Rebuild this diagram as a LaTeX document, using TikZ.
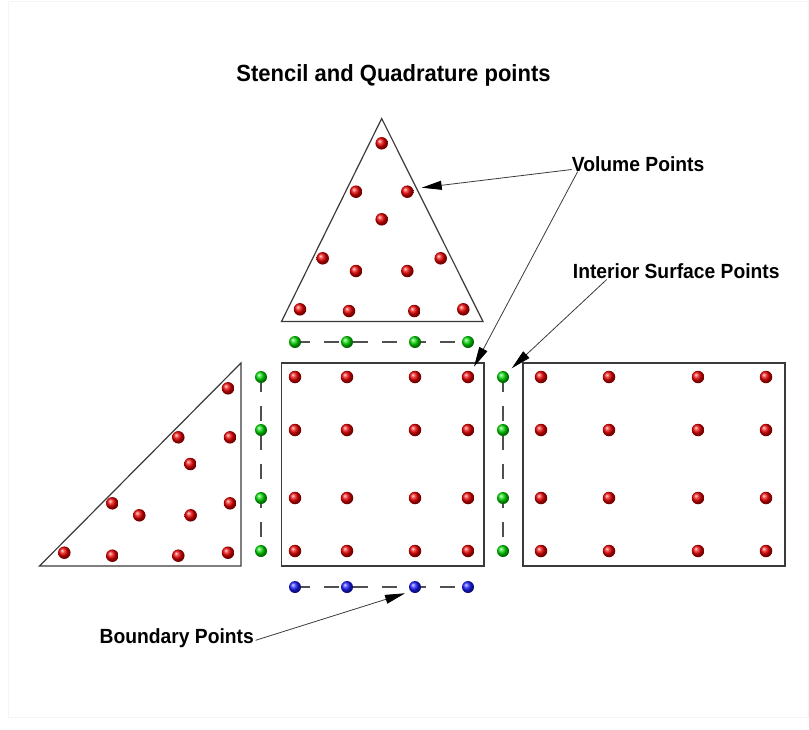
\documentclass[tikz,border=0pt]{standalone}
\usepackage{fontspec}
\setmainfont{Liberation Sans}
\newfontfamily\lblfont[FakeStretch=0.94]{Liberation Sans}
\usepackage{tikz}
\usetikzlibrary{arrows.meta,backgrounds}
\definecolor{edgegray}{HTML}{3A3A3A}
\definecolor{dashgray}{HTML}{505050}

\begin{document}
\begin{tikzpicture}[x=1pt, y=-1pt,
    volpt/.style={circle, inner sep=0pt, minimum size=12.5pt, ball color=red!92!black},
    surfpt/.style={circle, inner sep=0pt, minimum size=12pt, ball color=green!85!black},
    bndpt/.style={circle, inner sep=0pt, minimum size=12pt, ball color=blue!90},
    cell/.style={draw=edgegray, line width=1.2pt, line join=miter},
    link/.style={draw=dashgray, line width=1.1pt, dash pattern=on 15pt off 14pt},
    lbl/.style={inner sep=0pt, font=\lblfont\bfseries\fontsize{20.5}{24}\selectfont},
    arr/.style={-{Triangle[length=20pt,width=9pt,color=black]}, line width=0.8pt, draw=edgegray}]
\useasboundingbox (0,0) rectangle (809,729);
\draw[black!4] (8,1) rectangle (808,717);

% title
\node[lbl, font=\lblfont\bfseries\fontsize{23.4}{27}\selectfont, anchor=base] (title) at (393.5,81) {Stencil and Quadrature points};

% elements
\draw[cell] (381.7,118.5) -- (281.5,321.5) -- (483,321.5) -- cycle;
\draw[cell] (39.5,566) -- (241,363) -- (241,566) -- cycle;
\draw[cell] (281.5,363) rectangle (484,566);
\draw[cell] (523,363) rectangle (785,566);

% volume points
\foreach \x/\y [count=\i] in {381.7/143.3, 356/191.7, 407.3/191.7, 381.7/219.3, 322.7/258.3, 440.7/258.3,
    356/271, 407.3/271, 300/309.3, 349/311, 414.3/311, 463.3/309.3} {
  \node[volpt] (tv\i) at (\x,\y) {};
}
\foreach \x/\y [count=\i] in {228/388.3, 178.3/437.3, 230/437.3, 190.3/464, 112.3/503.3, 230/503.3,
    139.3/515.3, 190.7/515.3, 64.3/552.7, 112.3/555.7, 178.3/555.7, 228/552.7} {
  \node[volpt] (lv\i) at (\x,\y) {};
}
\foreach \y [count=\r] in {377,430,498,551} {
  \foreach \x [count=\c] in {295,347,415,468} {
    \node[volpt] (mv\r\c) at (\x,\y) {};
  }
  \foreach \x [count=\c] in {541,609,698,766} {
    \node[volpt] (rv\r\c) at (\x,\y) {};
  }
  \node[surfpt] (ls\r) at (261,\y) {};
  \node[surfpt] (rs\r) at (503,\y) {};
}

% surface and boundary points
\foreach \x [count=\c] in {295,347,415,468} {
  \node[surfpt] (ts\c) at (\x,342) {};
  \node[bndpt] (bp\c) at (\x,587) {};
}

\begin{scope}[on background layer]
\draw[link] (ts1.center) -- (ts4.center);
\draw[link] (bp1.center) -- (bp4.center);
\draw[link] (ls1.center) -- (ls4.center);
\draw[link] (rs1.center) -- (rs4.center);
\end{scope}

% labels
\node[lbl, anchor=base west] (vol) at (571.7,171.5) {Volume Points};
\node[lbl, anchor=base west] (isp) at (572.7,278.5) {Interior Surface Points};
\node[lbl, anchor=base west] (bnd) at (99.5,643.3) {Boundary Points};

\coordinate (tipA) at (421.7,187.7);
\coordinate (tipB) at (474,366.7);
\coordinate (tipC) at (511.7,368.3);
\coordinate (tipD) at (405,593.3);

\draw[arr] ([yshift=2pt]vol.base west) -- (tipA);
\draw[arr] ([xshift=6pt]vol.base west) -- (tipB);
\draw[arr] ([xshift=34pt,yshift=-1pt]isp.base west) -- (tipC);
\draw[arr] ([xshift=1.5pt,yshift=3pt]bnd.base east) -- (tipD);
\end{tikzpicture}
\end{document}
